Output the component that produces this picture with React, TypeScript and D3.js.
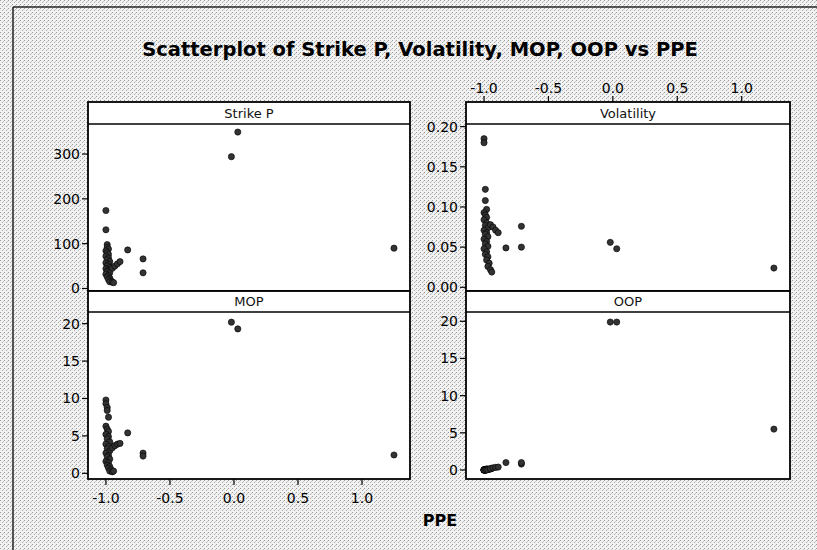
import React from "react";
import * as d3 from "d3";

const ppe = [-1.0,-1.0,-0.99,-0.99,-0.98,-1.0,-0.99,-0.98,-1.0,-0.98,-0.99,-0.97,-1.0,-0.98,-0.99,-0.97,-1.0,-0.98,-0.99,-0.97,-1.0,-0.98,-0.99,-0.97,-0.98,-0.96,-0.97,-0.95,-0.94,-0.95,-0.93,-0.91,-0.89,-0.83,-0.71,-0.71,-0.02,0.03,1.25];
const strikeP = [174,131,98,92,88,84,80,76,72,68,64,60,57,54,50,47,44,41,38,35,32,29,26,23,20,17,15,14,13,45,50,55,60,86,66,35,294,349,90];
const volatility = [0.185,0.18,0.122,0.108,0.097,0.093,0.09,0.087,0.084,0.08,0.077,0.074,0.071,0.068,0.066,0.063,0.06,0.057,0.054,0.051,0.048,0.044,0.041,0.038,0.034,0.03,0.026,0.022,0.019,0.078,0.075,0.071,0.068,0.049,0.076,0.05,0.056,0.048,0.024];
const mop = [9.8,9.3,8.8,8.4,7.5,6.3,5.9,5.6,5.2,4.9,4.6,4.2,3.9,3.6,3.3,3.0,2.7,2.4,2.2,1.9,1.6,1.4,1.1,0.9,0.7,0.5,0.3,0.2,0.3,3.4,3.7,3.9,4.0,5.4,2.7,2.3,20.2,19.3,2.45];
const oop = [0.0,0.05,0.1,0.0,0.1,0.0,0.05,0.1,0.0,0.1,0.0,0.05,0.0,0.1,0.0,0.1,0.0,0.05,0.0,0.1,0.0,0.05,0.0,0.1,0.0,0.1,0.05,0.15,0.2,0.2,0.3,0.35,0.4,1.0,0.8,1.0,19.9,19.9,5.5];

const xTicks = [-1.0, -0.5, 0.0, 0.5, 1.0];
const strikeTicks = [0, 100, 200, 300];
const volTicks = [0.0, 0.05, 0.1, 0.15, 0.2];
const mopTicks = [0, 5, 10, 15, 20];
const oopTicks = [0, 5, 10, 15, 20];

const TITLE = "Scatterplot of Strike P, Volatility, MOP, OOP vs PPE";
const FONT = "'DejaVu Sans', Verdana, sans-serif";

type PanelDef = {
  name: string;
  values: number[];
  x0: number; x1: number; top: number; stripBottom: number; bottom: number;
  yDomain: [number, number];
  yTicks: number[];
  yFmt: (v: number) => string;
  xAxis: "top" | "bottom" | null;
};

const xDomain: [number, number] = [-1.14, 1.375];

function Panel({ p }: { p: PanelDef }) {
  const x = d3.scaleLinear().domain(xDomain).range([p.x0, p.x1]);
  const y = d3.scaleLinear().domain(p.yDomain).range([p.bottom, p.stripBottom]);
  const xf = (v: number) => v.toFixed(1);
  return (
    <g>
      <rect x={p.x0} y={p.top} width={p.x1 - p.x0} height={p.bottom - p.top} fill="#fff" />
      <text x={(p.x0 + p.x1) / 2} y={(p.top + p.stripBottom) / 2 + 4.5} textAnchor="middle" fontSize={13} fontFamily={FONT} fill="#111">{p.name}</text>
      {p.values.map((v, i) => (
        <circle key={i} cx={x(ppe[i])} cy={y(v)} r={3.1} fill="#333" stroke="#000" strokeWidth={0.6} />
      ))}
      <line x1={p.x0} x2={p.x1} y1={p.stripBottom} y2={p.stripBottom} stroke="#000" strokeWidth={1.6} />
      <rect x={p.x0} y={p.top} width={p.x1 - p.x0} height={p.bottom - p.top} fill="none" stroke="#000" strokeWidth={1.8} />
      {p.yTicks.map((t) => (
        <g key={t}>
          <line x1={p.x0 - 6} x2={p.x0} y1={y(t)} y2={y(t)} stroke="#000" strokeWidth={1.2} />
          <text x={p.x0 - 8} y={y(t) + 5} textAnchor="end" fontSize={14} fontFamily={FONT} fill="#000">{p.yFmt(t)}</text>
        </g>
      ))}
      {p.xAxis === "bottom" && xTicks.map((t) => (
        <g key={t}>
          <line x1={x(t)} x2={x(t)} y1={p.bottom} y2={p.bottom + 6} stroke="#000" strokeWidth={1.2} />
          <text x={x(t)} y={p.bottom + 24} textAnchor="middle" fontSize={14} fontFamily={FONT} fill="#000">{xf(t)}</text>
        </g>
      ))}
      {p.xAxis === "top" && xTicks.map((t) => (
        <g key={t}>
          <line x1={x(t)} x2={x(t)} y1={p.top - 6} y2={p.top} stroke="#000" strokeWidth={1.2} />
          <text x={x(t)} y={p.top - 9} textAnchor="middle" fontSize={14} fontFamily={FONT} fill="#000">{xf(t)}</text>
        </g>
      ))}
    </g>
  );
}

export default function App() {
  const W = 817, H = 550;
  const L = [88, 410], R = [466, 790];
  const panels: PanelDef[] = [
    { name: "Strike P", values: strikeP, x0: L[0], x1: L[1], top: 102, stripBottom: 124, bottom: 291, yDomain: [-5.6, 367], yTicks: strikeTicks, yFmt: (v) => String(v), xAxis: null },
    { name: "Volatility", values: volatility, x0: R[0], x1: R[1], top: 102, stripBottom: 124, bottom: 291, yDomain: [-0.0046, 0.2033], yTicks: volTicks, yFmt: (v) => v.toFixed(2), xAxis: "top" },
    { name: "MOP", values: mop, x0: L[0], x1: L[1], top: 291, stripBottom: 312, bottom: 479, yDomain: [-0.76, 21.56], yTicks: mopTicks, yFmt: (v) => String(v), xAxis: "bottom" },
    { name: "OOP", values: oop, x0: R[0], x1: R[1], top: 291, stripBottom: 312, bottom: 479, yDomain: [-1.21, 21.25], yTicks: oopTicks, yFmt: (v) => String(v), xAxis: null },
  ];
  return (
    <svg width={W} height={H} style={{ position: "absolute", left: 0, top: 0, display: "block" }}>
      <defs>
        <pattern id="dither" width={4} height={4} patternUnits="userSpaceOnUse">
          <rect width={4} height={4} fill="#f2f2f2" />
          <rect x={0} y={0} width={1} height={1} fill="#999" />
          <rect x={2} y={2} width={1} height={1} fill="#aaa" />
          <rect x={3} y={1} width={1} height={1} fill="#c4c4c4" />
        </pattern>
      </defs>
      <rect width={W} height={H} fill="url(#dither)" />
      <line x1={13} x2={13} y1={7} y2={H} stroke="#222" strokeWidth={1.5} />
      <line x1={13} x2={W} y1={7} y2={7} stroke="#222" strokeWidth={1.5} />
      <text x={420} y={56} textAnchor="middle" fontSize={19.5} fontWeight="bold" fontFamily={FONT} fill="#000">{TITLE}</text>
      {panels.map((p) => <Panel key={p.name} p={p} />)}
      <text x={440} y={526} textAnchor="middle" fontSize={16} fontWeight="bold" fontFamily={FONT} fill="#000">PPE</text>
    </svg>
  );
}
